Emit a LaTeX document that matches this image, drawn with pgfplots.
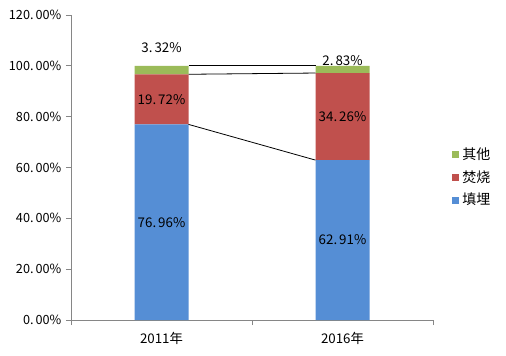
\documentclass[border=0pt]{standalone}
\usepackage{pgfplots}
\pgfplotsset{compat=1.18}
\usepackage{fontspec}
\setmainfont{Noto Sans CJK SC}
\definecolor{cblue}{RGB}{85,142,213}
\definecolor{cred}{RGB}{192,80,77}
\definecolor{cgreen}{RGB}{155,187,89}
\definecolor{axgray}{RGB}{134,134,134}
\begin{document}
\begin{tikzpicture}
\path[use as bounding box] (0,0) rectangle (379.5pt,266.25pt);
\pgfplotsset{
  common/.style={
    at={(53.25pt,26.25pt)}, anchor=south west,
    width=271.5pt, height=228.75pt, scale only axis,
    xmin=-0.5, xmax=1.5, ymin=0, ymax=120,
  }
}
\begin{axis}[common,
  ybar stacked, bar width=40.5pt,
  axis x line*=bottom, axis y line*=left,
  axis line style={draw=axgray, line width=0.75pt},
  tick style={draw=axgray, line width=0.75pt},
  major tick length=3.75pt, tick align=outside,
  xtick={-0.5,0.5,1.5}, xticklabels={},
  extra x ticks={0,1}, extra x tick labels={2011年,2016年},
  extra x tick style={major tick length=0pt, tick label style={yshift=-6pt, font=\fontsize{10}{11}\selectfont}},
  ytick={0,20,...,120},
  yticklabel={\pgfmathprintnumber[assume math mode=true,fixed,fixed zerofill,precision=2,dec sep={.\hspace{1.5pt}}]{\tick}\%},
  ticklabel style={font=\fontsize{9.5}{10}\selectfont, text=black},
  reverse legend,
  legend image code/.code={\fill[#1] (0pt,-2.6pt) rectangle (5.2pt,2.6pt);},
  legend style={at={(1.052,0.468)}, anchor=west, draw=none, fill=none,
    font=\fontsize{10.5}{11}\selectfont, row sep=1.8pt, inner sep=0pt,
    nodes={inner sep=2.5pt}},
  legend cell align=left,
]
\addplot[fill=cblue, draw=none] coordinates {(0,76.96) (1,62.91)};
\addplot[fill=cred, draw=none] coordinates {(0,19.72) (1,34.26)};
\addplot[fill=cgreen, draw=none] coordinates {(0,3.32) (1,2.83)};
\legend{填埋,焚烧,其他}
\end{axis}
\begin{axis}[common, hide axis]
\addplot[black, line width=0.6pt] coordinates {(0.1492,100) (0.8508,100)};
\addplot[black, line width=0.6pt] coordinates {(0.1492,96.68) (0.8508,97.17)};
\addplot[black, line width=0.6pt] coordinates {(0.1492,76.96) (0.8508,62.91)};
\begin{scope}[every node/.style={font=\fontsize{10}{11}\selectfont, text=black}]
\node at (axis cs:0,38.48) {76.\hspace{1.5pt}96\%};
\node at (axis cs:0,86.82) {19.\hspace{1.5pt}72\%};
\node at (axis cs:0,107.0) {3.\hspace{1.5pt}32\%};
\node at (axis cs:1,31.45) {62.\hspace{1.5pt}91\%};
\node at (axis cs:1,80.04) {34.\hspace{1.5pt}26\%};
\node at (axis cs:1,102.1) {2.\hspace{1.5pt}83\%};
\end{scope}
\end{axis}
\end{tikzpicture}
\end{document}
